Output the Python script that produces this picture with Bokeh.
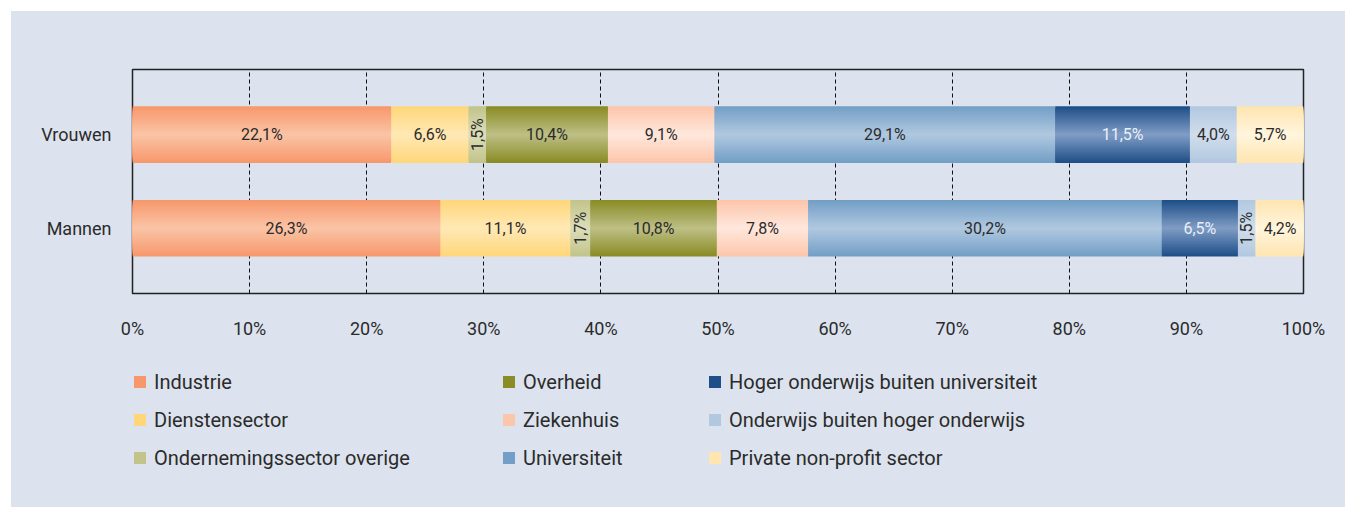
import math
from bokeh.plotting import figure
from bokeh.layouts import column
from bokeh.models import ColumnDataSource, Legend, LegendItem, FixedTicker, Range1d
from bokeh.core.properties import value
from bokeh.embed import file_html
from bokeh.resources import INLINE

# ---------------- data ----------------
groups = ["Mannen", "Vrouwen"]
sectors = [
    "Industrie",
    "Dienstensector",
    "Ondernemingssector overige",
    "Overheid",
    "Ziekenhuis",
    "Universiteit",
    "Hoger onderwijs buiten universiteit",
    "Onderwijs buiten hoger onderwijs",
    "Private non-profit sector",
]
mannen = [26.3, 11.1, 1.7, 10.8, 7.8, 30.2, 6.5, 1.5, 4.2]
vrouwen = [22.1, 6.6, 1.5, 10.4, 9.1, 29.1, 11.5, 4.0, 5.7]
x_ticks = [0, 10, 20, 30, 40, 50, 60, 70, 80, 90, 100]
x_tick_labels = ["0%", "10%", "20%", "30%", "40%", "50%", "60%", "70%", "80%", "90%", "100%"]

# ---------------- style ----------------
edge_colors = ["#F7986C", "#FFD77A", "#C2C48C", "#8A8C25", "#FCC6AB",
               "#739FC6", "#1F4F88", "#B2C8E0", "#FFE5B0"]
center_colors = ["#FAC4A6", "#FFE8B5", "#DCDDB8", "#BDBF85", "#FFE7DC",
                 "#B0C8E0", "#7F9CC5", "#D0DDEC", "#FFF5DD"]
label_colors = ["#2b2b2b"] * 6 + ["#EAF0F7"] + ["#2b2b2b"] * 2
BG = "#DCE3EE"
FONT = "Roboto"
TXT = "#2b2b2b"
BAR_H = 0.605
N_LAYERS = 24
W = 1334


def hex2rgb(h):
    h = h.lstrip("#")
    return tuple(int(h[i:i + 2], 16) for i in (0, 2, 4))


def mix(a, b, t):
    ra, rb = hex2rgb(a), hex2rgb(b)
    return "#%02x%02x%02x" % tuple(int(round(ra[i] + (rb[i] - ra[i]) * t)) for i in range(3))


series = {"Mannen": mannen, "Vrouwen": vrouwen}

# nested layers (full bar in edge colour, progressively thinner & lighter on top)
layers = dict(y=[], left=[], right=[], height=[], color=[])
labels = dict(x=[], y=[], text=[], angle=[], color=[])
for gi, g in enumerate(groups):
    ypos = gi + 1
    vals = series[g]
    left = 0.0
    for si, v in enumerate(vals):
        right = left + v
        labels["x"].append((left + right) / 2)
        labels["y"].append(ypos)
        labels["text"].append(("%.1f" % v).replace(".", ",") + "%")
        labels["angle"].append(math.pi / 2 if v < 2 else 0.0)
        labels["color"].append(label_colors[si])
        left = right

for j in range(N_LAYERS):
    t = j / (N_LAYERS - 1)
    for gi, g in enumerate(groups):
        ypos = gi + 1
        left = 0.0
        for si, v in enumerate(series[g]):
            right = left + v
            layers["y"].append(ypos)
            layers["left"].append(left)
            layers["right"].append(right)
            layers["height"].append(BAR_H * (1 - t * 0.97))
            layers["color"].append(mix(edge_colors[si], center_colors[si], t))
            left = right

# ---------------- main chart ----------------
p = figure(
    width=W, height=330,
    x_range=Range1d(0, 100), y_range=Range1d(0.303, 2.695),
    output_backend="svg", toolbar_location=None,
    min_border_left=121, min_border_right=42, min_border_top=58, min_border_bottom=47,
)
p.background_fill_color = BG
p.border_fill_color = BG
p.outline_line_color = "#222222"
p.outline_line_width = 1.5

p.hbar(y="y", left="left", right="right", height="height",
       fill_color="color", line_color=None,
       source=ColumnDataSource(layers))

p.text(x="x", y="y", text="text", angle="angle", text_color="color",
       text_font=value(FONT), text_font_size="16px",
       text_align="center", text_baseline="middle",
       source=ColumnDataSource(labels))

p.xaxis.ticker = FixedTicker(ticks=x_ticks)
p.xaxis.major_label_overrides = {t: l for t, l in zip(x_ticks, x_tick_labels)}
p.yaxis.ticker = FixedTicker(ticks=[1, 2])
p.yaxis.major_label_overrides = {i + 1: g for i, g in enumerate(groups)}
for ax in (p.xaxis, p.yaxis):
    ax.axis_line_color = None
    ax.major_tick_line_color = None
    ax.minor_tick_line_color = None
    ax.major_label_text_font = FONT
    ax.major_label_text_font_size = "18px"
    ax.major_label_text_color = TXT
p.xaxis.major_label_standoff = 18
p.yaxis.major_label_standoff = 15

p.xgrid.ticker = FixedTicker(ticks=x_ticks)
p.xgrid.grid_line_color = "#111111"
p.xgrid.grid_line_dash = "4 3"
p.xgrid.grid_line_width = 1
p.ygrid.grid_line_color = None

# ---------------- legend panel ----------------
p2 = figure(
    width=W, height=166,
    x_range=Range1d(0, 1), y_range=Range1d(0, 1),
    output_backend="svg", toolbar_location=None,
    min_border=0, x_axis_location=None, y_axis_location=None,
)
p2.background_fill_color = None
p2.border_fill_color = BG
p2.outline_line_color = None
p2.xgrid.grid_line_color = None
p2.ygrid.grid_line_color = None

legend_renderers = [
    p2.hbar(y=[-10], left=[0], right=[0.1], height=0.5, fill_color=c, line_color=None)
    for c in edge_colors
]
col_x = [0, 369, 575]
for c in range(3):
    items = [LegendItem(label=sectors[c * 3 + r], renderers=[legend_renderers[c * 3 + r]])
             for r in range(3)]
    leg = Legend(items=items, location=(col_x[c], 37.5), orientation="vertical")
    leg.background_fill_alpha = 0
    leg.border_line_color = None
    leg.padding = 0
    leg.margin = 0
    leg.spacing = 14
    leg.glyph_width = 15
    leg.glyph_height = 15
    leg.label_height = 24
    leg.label_standoff = 7
    leg.label_text_font = FONT
    leg.label_text_font_size = "20px"
    leg.label_text_color = TXT
    p2.add_layout(leg)

layout = column(p, p2, margin=(11, 0, 0, 11), spacing=0)
layout.styles = {"background-color": BG}

open("out.html", "w").write(file_html(layout, INLINE))
